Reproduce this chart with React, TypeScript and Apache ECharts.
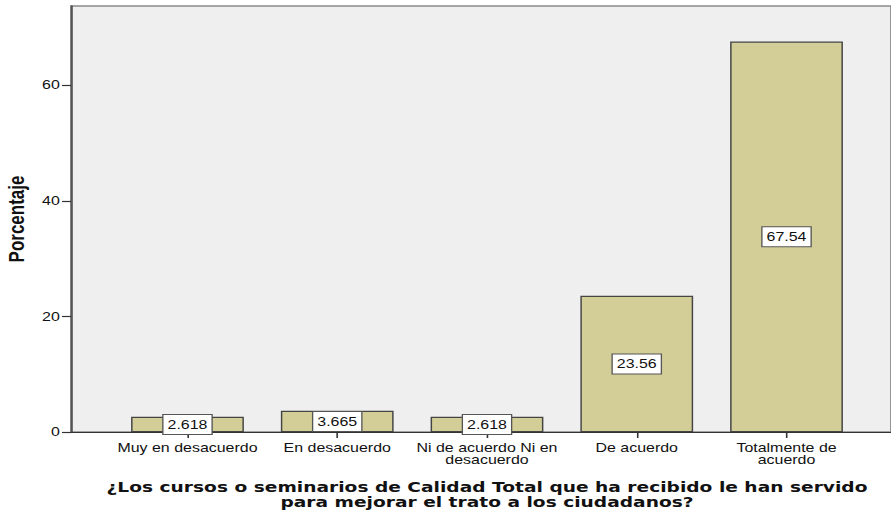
import React, { useEffect, useRef } from "react";
import * as echarts from "echarts";

const categories = [
  "Muy en desacuerdo",
  "En desacuerdo",
  "Ni de acuerdo Ni en\ndesacuerdo",
  "De acuerdo",
  "Totalmente de\nacuerdo",
];
const percentages = [2.618, 3.665, 2.618, 23.56, 67.54];
const yTicks = { min: 0, max: 73.7, interval: 20 };
const yAxisTitle = "Porcentaje";
const xAxisTitle =
  "¿Los cursos o seminarios de Calidad Total que ha recibido le han servido\npara mejorar el trato a los ciudadanos?";

// The reference picture is horizontally stretched; draw narrower and stretch.
const STRETCH = 1.33;
const W = 891 / STRETCH;

export default function App() {
  const ref = useRef<HTMLDivElement>(null);
  useEffect(() => {
    if (!ref.current) return;
    const chart = echarts.init(ref.current, undefined, { renderer: "svg" });
    const top = 6;
    const bottom = 83;
    chart.setOption({
      animation: false,
      backgroundColor: "#ffffff",
      grid: [
        {
          left: 71 / STRETCH,
          right: 0,
          top,
          bottom,
          show: true,
          backgroundColor: "#efefef",
          borderColor: "#8a8a8a",
          borderWidth: 1.5,
          containLabel: false,
          outerBoundsMode: "none",
        },
        {
          left: 112.6 / STRETCH,
          width: 748.8 / STRETCH,
          top,
          bottom,
          containLabel: false,
          outerBoundsMode: "none",
        },
      ],
      xAxis: [
        {
          gridIndex: 0,
          type: "value",
          min: 0,
          max: 1,
          axisLine: { show: true, lineStyle: { color: "#333", width: 1.2 } },
          axisTick: { show: false },
          axisLabel: { show: false },
          splitLine: { show: false },
        },
        {
          gridIndex: 1,
          type: "category",
          data: categories,
          axisLine: { show: false },
          axisTick: {
            show: true,
            alignWithLabel: true,
            length: 6,
            lineStyle: { color: "#333", width: 1.2 },
          },
          axisLabel: {
            fontFamily: "Liberation Sans, Arial, sans-serif",
            fontSize: 12,
            lineHeight: 12,
            color: "#111",
            margin: 10,
            interval: 0,
          },
          name: xAxisTitle,
          nameLocation: "middle",
          nameGap: 48,
          nameTextStyle: {
            fontFamily: "DejaVu Sans, Verdana, sans-serif",
            fontWeight: "bold",
            fontSize: 14,
            lineHeight: 15,
            color: "#111",
          },
        },
      ],
      yAxis: [
        {
          gridIndex: 0,
          type: "value",
          min: yTicks.min,
          max: yTicks.max,
          interval: yTicks.interval,
          axisLine: { show: true, lineStyle: { color: "#555", width: 1.5 } },
          axisTick: { show: true, length: 6.8, lineStyle: { color: "#333", width: 1.2 } },
          axisLabel: {
            fontFamily: "Liberation Sans, Arial, sans-serif",
            fontSize: 12,
            color: "#111",
            margin: 8.4,
            showMaxLabel: false,
          },
          splitLine: { show: false },
          name: yAxisTitle,
          nameLocation: "middle",
          nameGap: 30,
          nameTextStyle: {
            fontFamily: "Liberation Sans, Arial, sans-serif",
            fontWeight: "bold",
            fontSize: 17,
            color: "#111",
          },
        },
        {
          gridIndex: 1,
          type: "value",
          min: yTicks.min,
          max: yTicks.max,
          show: false,
        },
      ],
      series: [
        {
          type: "bar",
          xAxisIndex: 1,
          yAxisIndex: 1,
          data: percentages,
          barCategoryGap: "24.7%",
          itemStyle: { color: "#d3ce97", borderColor: "#444", borderWidth: 1.1 },
          label: {
            show: true,
            position: "inside",
            formatter: (p: any) => String(p.value),
            fontFamily: "Liberation Sans, Arial, sans-serif",
            fontSize: 12,
            color: "#111",
            backgroundColor: "#ffffff",
            borderColor: "#555",
            borderWidth: 1,
            padding: [4, 3, 3, 3],
          },
        },
      ],
    });
    return () => chart.dispose();
  }, []);
  return (
    <div
      style={{
        position: "fixed",
        left: 0,
        top: 0,
        width: 891,
        height: 515,
        background: "#fff",
        overflow: "hidden",
      }}
    >
      <div
        ref={ref}
        style={{
          width: W,
          height: 515,
          transform: `scaleX(${STRETCH})`,
          transformOrigin: "0 0",
        }}
      />
    </div>
  );
}
